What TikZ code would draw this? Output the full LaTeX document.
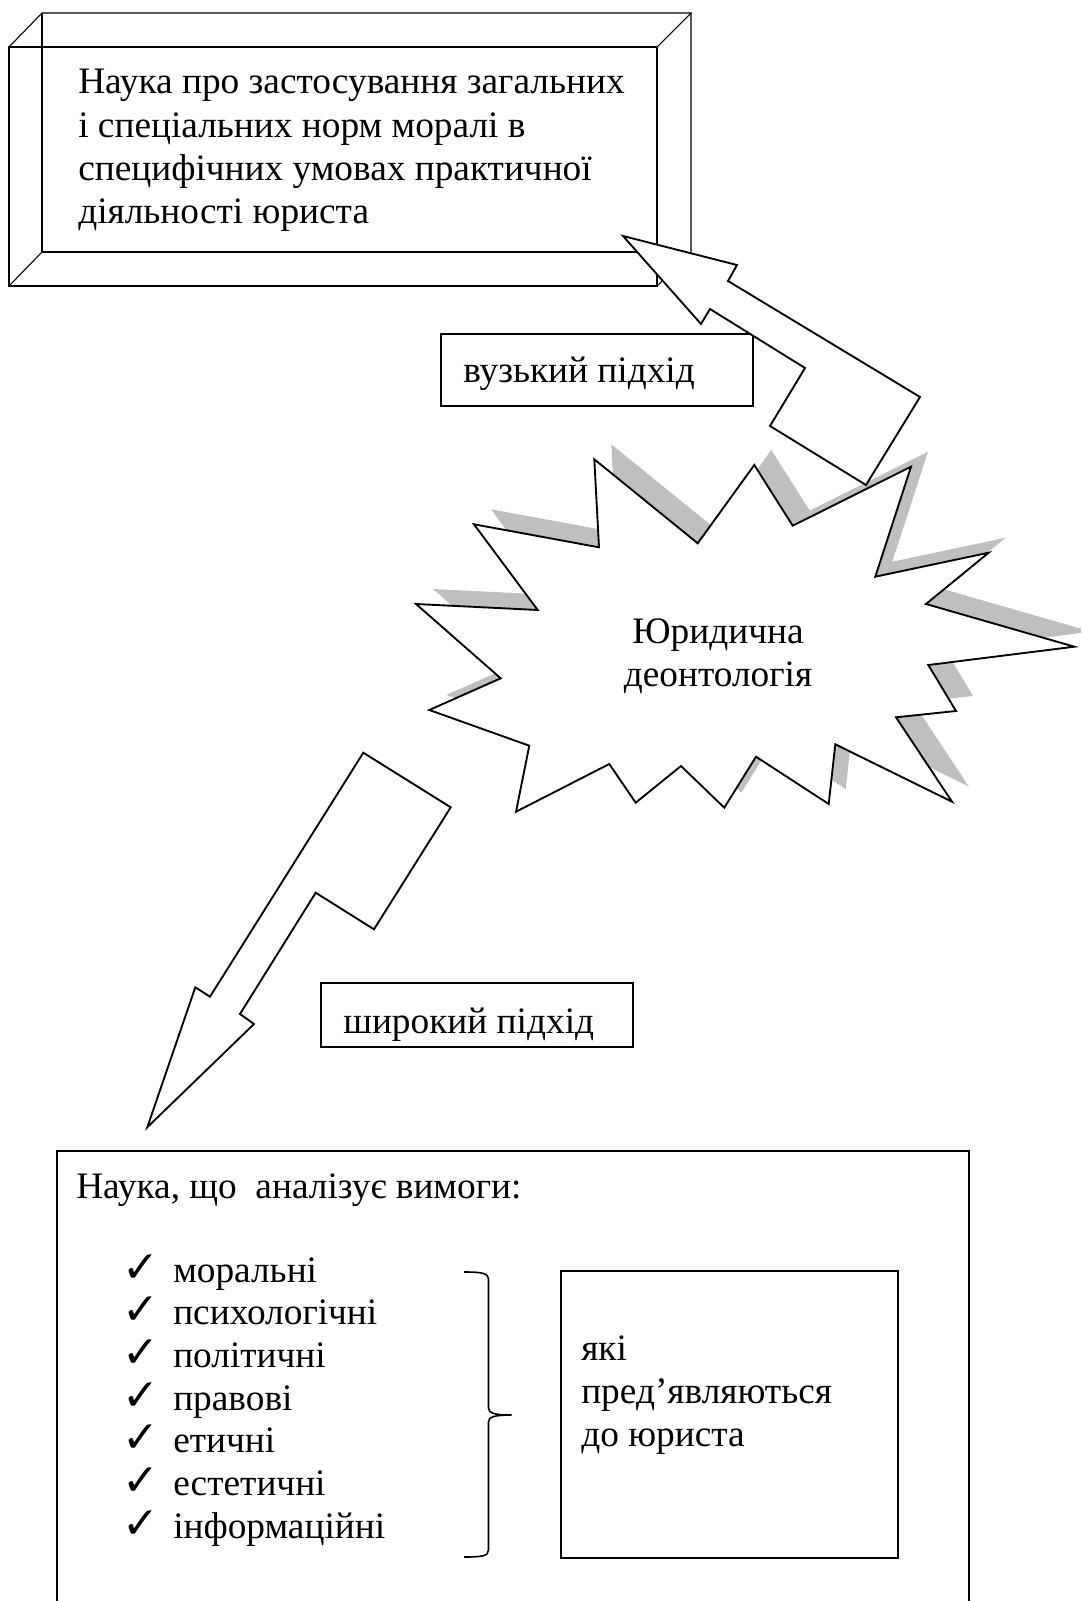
\documentclass[tikz,border=0pt]{standalone}
\usepackage{fontspec}
\setmainfont{Liberation Serif}
\newfontfamily\checkfont{DejaVu Sans}
\begin{document}
\begin{tikzpicture}[x=0.75pt,y=-0.75pt,
  txt/.style={inner sep=0pt, anchor=base west, font=\fontsize{28}{32.5}\selectfont},
  ctxt/.style={inner sep=0pt, anchor=base, font=\fontsize{28}{32.5}\selectfont},
  cubeline/.style={draw=black, line width=0.8pt},
  boxline/.style={draw=black, line width=1.3pt},
  shapeline/.style={draw=black, line width=1.4pt, fill=white, line join=miter},
  shadowfill/.style={fill=black!25, draw=none},
  chk/.style={inner sep=0pt, anchor=base west, font=\checkfont\fontsize{33}{36}\selectfont}
]
\useasboundingbox (0,0) rectangle (1081,1601);
\fill[white] (0,0) rectangle (1081,1601);
\clip (0,0) rectangle (1081,1601);

% top cube box
\draw[cubeline] (9,47) rectangle (657,286);
\draw[cubeline] (9,47) -- (42,13) -- (691,13) -- (657,47);
\draw[cubeline] (691,13) -- (691,252) -- (657,286);
\draw[cubeline] (42,13) -- (42,252) -- (657,252);
\draw[cubeline] (9,286) -- (42,252);
\node[txt] (t1) at (78,94) {Наука про застосування загальних};
\node[txt] (t2) at (78,137.3) {і спеціальних норм моралі в};
\node[txt] (t3) at (78,180.7) {специфічних умовах практичної};
\node[txt] (t4) at (78,224) {діяльності юриста};

% narrow approach box
\draw[boxline] (441,334.3) rectangle (753.3,405.7);
\node[txt] (n1) at (463,382) {вузький підхід};

% star shadow
\fill[shadowfill, shift={(17,-15)}] (594.3,459.3) -- (697.7,543.3) -- (754.3,465) -- (792.7,525.7) -- (911,466.7) -- (875.3,576.7) -- (988.7,552.7) -- (926,604) -- (1074.3,646.7) -- (928.3,665) -- (956,711) -- (896,717.3) -- (952,801.7) -- (835.3,744.3) -- (828.7,804) -- (756,756.7) -- (724.3,807.7) -- (681,766) -- (635.7,802.7) -- (609.3,764) -- (516,811.7) -- (529.3,745.7) -- (429.3,710) -- (500.7,678.3) -- (416,604) -- (537.7,610) -- (474,524.3) -- (599,547.3) -- cycle;
% star
\draw[shapeline] (594.3,459.3) -- (697.7,543.3) -- (754.3,465) -- (792.7,525.7) -- (911,466.7) -- (875.3,576.7) -- (988.7,552.7) -- (926,604) -- (1074.3,646.7) -- (928.3,665) -- (956,711) -- (896,717.3) -- (952,801.7) -- (835.3,744.3) -- (828.7,804) -- (756,756.7) -- (724.3,807.7) -- (681,766) -- (635.7,802.7) -- (609.3,764) -- (516,811.7) -- (529.3,745.7) -- (429.3,710) -- (500.7,678.3) -- (416,604) -- (537.7,610) -- (474,524.3) -- (599,547.3) -- cycle;
\node[ctxt] (s1) at (718,643) {Юридична};
\node[ctxt] (s2) at (718,686) {деонтологія};

% upper arrow
\draw[shapeline] (623,236) -- (737,265) -- (728,281) -- (920,397) -- (866,485) -- (770,426) -- (805,368) -- (710,309) -- (701,324) -- cycle;

% lower arrow
\draw[shapeline] (363.3,752.7) -- (450.7,807.3) -- (374,929.3) -- (315.7,892.7) -- (240,1014) -- (254,1024) -- (147.3,1127.3) -- (195.3,987.3) -- (210,996.7) -- cycle;

% wide approach box
\draw[boxline] (321,982.7) rectangle (633.3,1046.7);
\node[txt] (w1) at (343,1033) {широкий підхід};

% bottom box
\draw[boxline] (57,1151) rectangle (969,1650);
\node[txt] (b0) at (76,1198) {Наука, що\ \ аналізує вимоги:};

\node[chk] (c1) at (122,1282) {✓};
\node[chk] (c2) at (122,1324.7) {✓};
\node[chk] (c3) at (122,1367.3) {✓};
\node[chk] (c4) at (122,1410) {✓};
\node[chk] (c5) at (122,1452.7) {✓};
\node[chk] (c6) at (122,1495.3) {✓};
\node[chk] (c7) at (122,1538) {✓};
\node[txt] (l1) at (173,1282) {моральні};
\node[txt] (l2) at (173,1324.7) {психологічні};
\node[txt] (l3) at (173,1367.3) {політичні};
\node[txt] (l4) at (173,1410) {правові};
\node[txt] (l5) at (173,1452.7) {етичні};
\node[txt] (l6) at (173,1495.3) {естетичні};
\node[txt] (l7) at (173,1538) {інформаційні};

% brace
\draw[line width=1.2pt] (464,1272) .. controls (482,1272) and (488.5,1273) .. (488.5,1280) -- (488.5,1408) .. controls (488.5,1413) and (494,1415) .. (511.5,1415) .. controls (494,1415) and (488.5,1417) .. (488.5,1422) -- (488.5,1550) .. controls (488.5,1556) and (482,1557) .. (464,1557);

% right small box
\draw[boxline] (561,1271) rectangle (898,1558);
\node[txt] (r1) at (581,1360) {які};
\node[txt] (r2) at (581,1403) {пред’являються};
\node[txt] (r3) at (581,1446) {до юриста};
\end{tikzpicture}
\end{document}
